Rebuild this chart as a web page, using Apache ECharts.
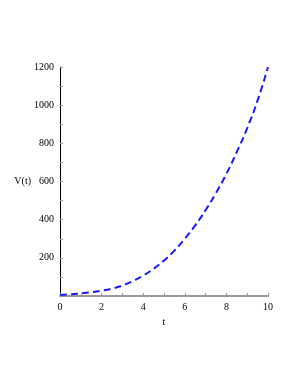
<!DOCTYPE html>
<html><head><meta charset="utf-8">
<script src="https://cdn.jsdelivr.net/npm/echarts@6/dist/echarts.min.js"></script>
<style>html,body{margin:0;padding:0;background:#fff}#c{width:295px;height:382px}</style>
</head><body><div id="c"></div>
<script>
const tValues = [0,0.5,1,1.5,2,2.5,3,3.5,4,4.5,5,5.5,6,6.5,7,7.5,8,8.5,9,9.5,10];
const vValues = [7,9,14,20,28,39,55,78,107,143,186,238,300,370,450,540,640,755,880,1025,1200];
const xTicks = [0,2,4,6,8,10];
const yTicks = [200,400,600,800,1000,1200];
const chart = echarts.init(document.getElementById('c'));
const font = 'Liberation Serif';
chart.setOption({
  animation:false,
  grid:{left:60,right:27,top:67,bottom:86},
  xAxis:{type:'value',min:0,max:10,interval:2,
    name:'t',nameLocation:'middle',nameGap:21,nameMoveOverlap:false,
    nameTextStyle:{fontFamily:font,fontSize:10,color:'#000'},
    axisLine:{lineStyle:{color:'#999',width:2}},
    axisTick:{show:true,inside:true,length:3,lineStyle:{color:'#999'}},
    minorTick:{show:true,splitNumber:2,length:3,lineStyle:{color:'#999'}},
    splitLine:{show:false},
    axisLabel:{fontFamily:font,fontSize:10,color:'#000',margin:6,
      formatter:v=>xTicks.includes(v)?String(v):''}
  },
  yAxis:{type:'value',min:0,max:1200,interval:200,
    name:'V(t)',nameLocation:'middle',nameGap:29,nameRotate:0,nameMoveOverlap:false,
    nameTextStyle:{fontFamily:font,fontSize:10,color:'#000',align:'right',verticalAlign:'middle'},
    axisLine:{show:true,lineStyle:{color:'#000',width:1}},
    axisTick:{show:true,inside:true,length:3,lineStyle:{color:'#999'}},
    minorTick:{show:true,splitNumber:2,length:3,lineStyle:{color:'#999'}},
    splitLine:{show:false},
    axisLabel:{fontFamily:font,fontSize:10,color:'#000',margin:6,
      formatter:v=>yTicks.includes(v)?String(v):''}
  },
  series:[{type:'line',data:tValues.map((t,i)=>[t,vValues[i]]),
    smooth:true,showSymbol:false,
    lineStyle:{color:'#1a1aff',width:2,type:[7,4]}}]
});
</script></body></html>
